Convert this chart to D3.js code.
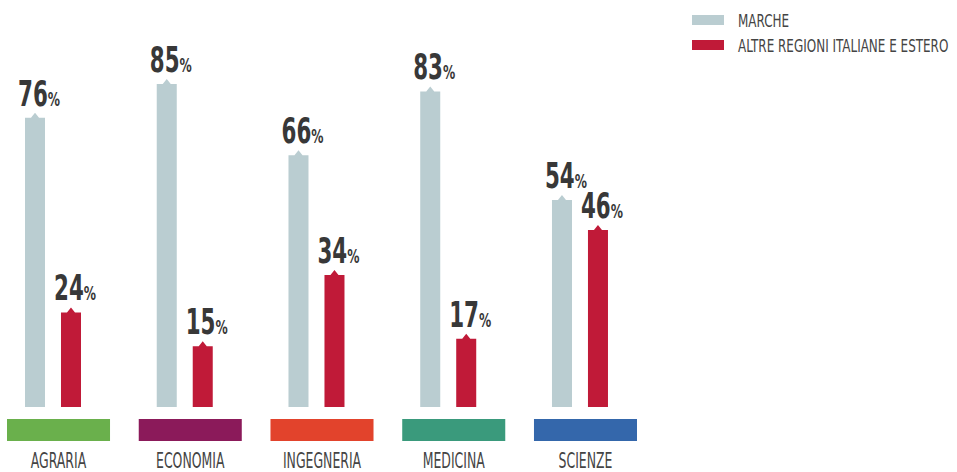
<!DOCTYPE html>
<html>
<head>
<meta charset="utf-8">
<script src="https://cdn.jsdelivr.net/npm/d3@7"></script>
<style>
  body { margin: 0; background: #fff; }
  svg { display: block; }
  text { font-family: "DejaVu Sans Condensed", "DejaVu Sans", sans-serif; }
</style>
</head>
<body>
<svg id="chart" width="957" height="472"></svg>
<script>
const categories = ['AGRARIA', 'ECONOMIA', 'INGEGNERIA', 'MEDICINA', 'SCIENZE']
const series = ['MARCHE', 'ALTRE REGIONI ITALIANE E ESTERO']
const marche = [76, 85, 66, 83, 54]
const altre = [24, 15, 34, 17, 46]
const categoryColors = ['#6ab04c', '#8b1a5a', '#e2432c', '#3a9a7c', '#3467ab']
const seriesColors = ['#bacdd1', '#c01a38']

const baseline = 407

const svg = d3.select('#chart')

const x = d3.scaleBand()
    .domain(categories)
    .range([7, 637])
    .paddingInner(0.218)

const xInner = d3.scaleBand()
    .domain(series)
    .range([18, 74])
    .paddingInner(0.444)

// bars keep a small stub above the baseline even at zero
const y = d3.scaleLinear()
    .domain([0, 100])
    .range([402.3, 402.3 - 374.5])

const rows = []
categories.forEach((c, i) => {
    rows.push({cat: c, s: series[0], v: marche[i]})
    rows.push({cat: c, s: series[1], v: altre[i]})
})

// bars with a small pointed tip
const bw = xInner.bandwidth()
function barPath(d) {
    const x0 = x(d.cat) + xInner(d.s)
    const x1 = x0 + bw
    const cx = x0 + bw / 2
    const top = y(d.v)
    return 'M' + x0 + ',' + baseline +
        'L' + x0 + ',' + top +
        'L' + (cx - 4) + ',' + top +
        'L' + cx + ',' + (top - 5) +
        'L' + (cx + 4) + ',' + top +
        'L' + x1 + ',' + top +
        'L' + x1 + ',' + baseline + 'Z'
}

svg.append('g')
    .selectAll('path')
    .data(rows)
    .enter()
    .append('path')
    .attr('d', barPath)
    .attr('fill', d => seriesColors[series.indexOf(d.s)])

// value labels (squeezed to look like a condensed face)
const lab = svg.append('g')
    .selectAll('text')
    .data(rows)
    .enter()
    .append('text')
    .attr('transform', d => 'translate(' + (x(d.cat) + xInner(d.s) - 7) + ',' + (y(d.v) - 12) + ') scale(0.68,1)')
    .attr('fill', '#383838')
    .attr('font-weight', 'bold')
lab.append('tspan')
    .attr('font-size', 35)
    .text(d => d.v)
lab.append('tspan')
    .attr('font-size', 20)
    .text('%')

// category strips
svg.append('g')
    .selectAll('rect')
    .data(categories)
    .enter()
    .append('rect')
    .attr('x', d => x(d))
    .attr('y', 419)
    .attr('width', x.bandwidth())
    .attr('height', 22)
    .attr('fill', (d, i) => categoryColors[i])

svg.append('g')
    .selectAll('text')
    .data(categories)
    .enter()
    .append('text')
    .attr('transform', d => 'translate(' + (x(d) + x.bandwidth() / 2) + ',468) scale(0.63,1)')
    .attr('text-anchor', 'middle')
    .attr('font-size', 22)
    .attr('fill', '#444')
    .text(d => d)

// legend
const legend = svg.append('g')
    .selectAll('g')
    .data(series)
    .enter()
    .append('g')
    .attr('transform', (d, i) => 'translate(692,' + (15 + i * 25) + ')')
legend.append('rect')
    .attr('width', 32)
    .attr('height', 10)
    .attr('fill', (d, i) => seriesColors[i])
legend.append('text')
    .attr('transform', 'translate(46,12) scale(0.74,1)')
    .attr('font-size', 18)
    .attr('fill', '#444')
    .text(d => d)
</script>
</body>
</html>
